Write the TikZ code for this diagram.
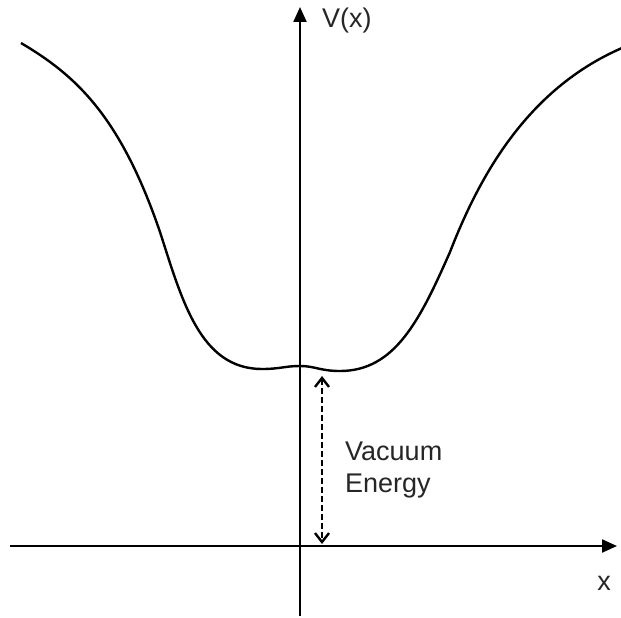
\documentclass[tikz,border=0pt]{standalone}
\usepackage{fontspec}
\setmainfont{Liberation Sans}
\usetikzlibrary{arrows.meta}
\begin{document}
\begin{tikzpicture}[x=1pt,y=-1pt,
  axis/.style={line width=2.2pt,-{Triangle[length=15pt,width=13pt]}},
  curve/.style={line width=2.4pt},
  gap/.style={line width=2.8pt,dash pattern=on 6pt off 3pt,{Straight Barb[length=9pt,width=14pt,line width=2.4pt]}-{Straight Barb[length=9pt,width=14pt,line width=2.4pt]}},
  lbl/.style={font=\fontsize{27}{32}\selectfont,inner sep=0pt,text=black!85}]
\useasboundingbox (0,0) rectangle (621,618);
\coordinate (xs) at (10,546);
\coordinate (xe) at (617,546);
\coordinate (ys) at (300,616);
\coordinate (ye) at (300,7);
\draw[axis] (xs) -- (xe);
\draw[axis] (ys) -- (ye);
\draw[curve] (21,43) .. controls (75,75) and (120,115) .. (160,232)
  .. controls (182,300) and (200,369) .. (262,369)
  .. controls (280,369) and (285,366) .. (300,366)
  .. controls (315,366) and (320,371) .. (340,371)
  .. controls (395,371) and (420,320) .. (450,252)
  .. controls (478,180) and (525,90) .. (622,48);
\coordinate (a1) at (322,376);
\coordinate (a2) at (322,544);
\draw[gap] (a1) -- (a2);
\node[lbl,anchor=west,align=left] (ve) at (345,470) {Vacuum\\Energy};
\node[lbl,anchor=west] (vx) at (322,21) {V(x)};
\node[lbl,anchor=center] (xl) at (604,583) {x};
\end{tikzpicture}
\end{document}
